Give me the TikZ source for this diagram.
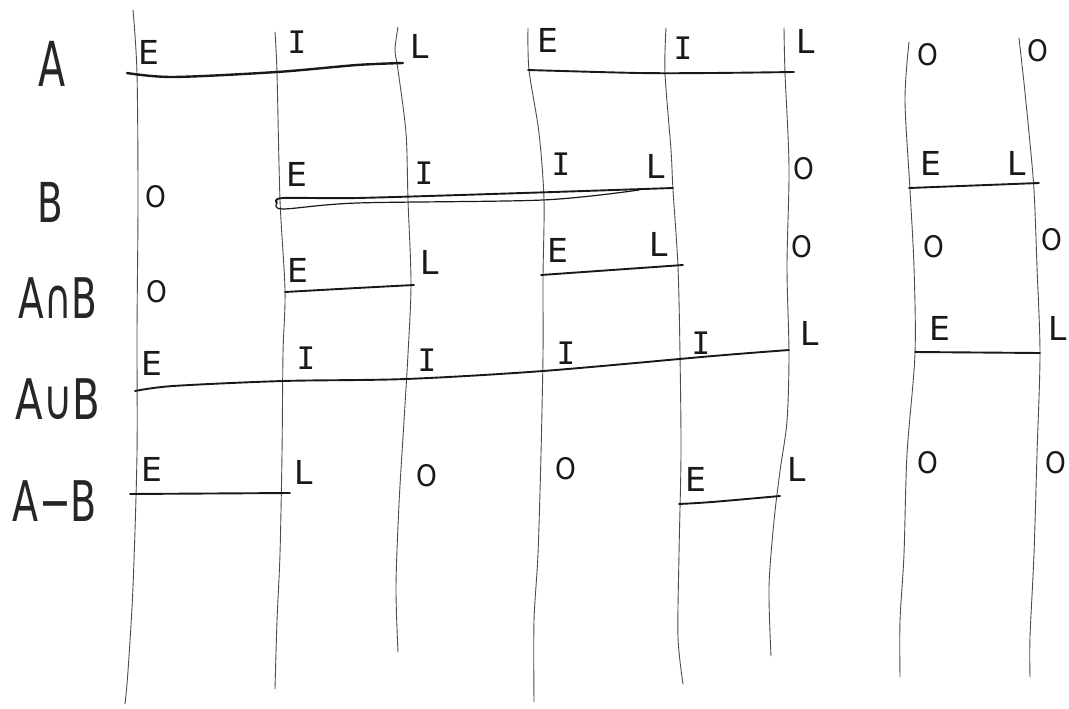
\documentclass[tikz,border=0pt]{standalone}
\usepackage{fontspec}
\usepackage{graphicx}
\newfontfamily\handfont{DejaVu Sans Mono}
\newfontfamily\labfont{DejaVu Sans}
\newcommand\hlab[3]{\scalebox{#2}[1]{\labfont\fontsize{#1}{#1}\selectfont #3}}
\newcommand\hl[1]{\scalebox{0.8}[0.9]{#1}}
\tikzset{
  ltr/.style={font=\labfont\fontsize{33}{33}\selectfont, inner sep=0pt, text=black!90},
  iltr/.style={font=\handfont\fontsize{31}{31}\selectfont, inner sep=0pt, text=black!90},
  rowlab/.style={inner sep=0pt, text=black!85},
  vline/.style={draw=black!70, line width=0.9pt, line cap=round},
  hline/.style={draw=black!90, line width=1.9pt, line cap=round, line join=round},
}
\begin{document}
\begin{tikzpicture}[x=1pt,y=-1pt]
\useasboundingbox[fill=white] (0,0) rectangle (1069,709);

% vertical lines
\draw[vline] plot[smooth] coordinates {(133,10) (137,73) (138,200) (137,333) (137,454) (133,587) (128,671) (125,704)};
\draw[vline] plot[smooth] coordinates {(275,32) (277,73) (280,200) (285,290) (283,354) (282,454) (280,554) (277,621) (275,689)};
\draw[vline] plot[smooth] coordinates {(398,27) (395,50) (398,70) (406,133) (408,200) (411,283) (408,354) (404,421) (399,504) (396,587) (398,652)};
\draw[vline] plot[smooth] coordinates {(528,28) (529,70) (539,133) (544,200) (543,277) (543,354) (541,454) (538,554) (534,621) (534,702)};
\draw[vline] plot[smooth] coordinates {(666,28) (665,73) (671,150) (673,190) (678,267) (680,354) (681,454) (679,554) (678,637) (683,684)};
\draw[vline] plot[smooth] coordinates {(784,28) (785,73) (789,167) (787,267) (789,354) (787,421) (780,471) (774,521) (769,587) (771,656)};
\draw[vline] plot[smooth] coordinates {(909,42) (905,100) (910,190) (914,267) (915,354) (907,454) (904,554) (900,621) (900,677)};
\draw[vline] plot[smooth] coordinates {(1019,38) (1024,83) (1029,133) (1034,190) (1037,267) (1040,354) (1037,454) (1034,554) (1030,637) (1030,677)};

% horizontal lines
\draw[hline, line width=2.4pt] plot[smooth] coordinates {(127,73) (173,77) (277,72) (357,65) (403,63)};
\draw[hline] plot[smooth] coordinates {(528,70) (639,73) (712,73) (794,72)};
\draw[hline] plot[smooth] coordinates {(277,203) (283,198) (357,198) (523,193) (673,188)};
\draw[hline, line width=1.2pt] plot[smooth] coordinates {(277,203) (283,209) (357,203) (543,200) (639,190)};
\draw[hline] plot[smooth] coordinates {(909,188) (1039,183)};
\draw[hline] plot[smooth] coordinates {(285,292) (357,288) (414,285)};
\draw[hline] plot[smooth] coordinates {(541,275) (683,265)};
\draw[hline] plot[smooth] coordinates {(135,391) (173,386) (283,381) (406,379) (543,371) (713,356) (789,350)};
\draw[hline] plot[smooth] coordinates {(915,352) (1040,353)};
\draw[hline] plot[smooth] coordinates {(130,494) (290,493)};
\draw[hline] plot[smooth] coordinates {(679,504) (712,502) (780,496)};

% row labels
\node[rowlab] (labA)  at (52,64)  {\hlab{62}{0.64}{A}};
\node[rowlab] (labB)  at (50,202) {\hlab{55}{0.68}{B}};
\node[rowlab] (labAB) at (58,298) {\hlab{56}{0.67}{A∩B}};
\node[rowlab] (labAuB) at (58,399) {\hlab{56}{0.72}{A∪B}};
\node[rowlab] (labAmB) at (55,501) {\hlab{56}{0.68}{A−B}};

% row A
\node[ltr] (a1) at (149,52) {E};
\node[iltr] (a2) at (297,42) {I};
\node[ltr] (a3) at (420,46) {L};
\node[ltr] (a4) at (548,40) {E};
\node[iltr] (a5) at (683,48) {I};
\node[ltr] (a6) at (806,41) {L};
\node[ltr] (a7) at (928,55) {\hl{O}};
\node[ltr] (a8) at (1038,51) {\hl{O}};
% row B
\node[ltr] (b1) at (156,197) {\hl{O}};
\node[ltr] (b2) at (297,174) {E};
\node[iltr] (b3) at (424,173) {I};
\node[iltr] (b4) at (561,164) {I};
\node[ltr] (b5) at (656,166) {L};
\node[ltr] (b6) at (804,169) {\hl{O}};
\node[ltr] (b7) at (931,163) {E};
\node[ltr] (b8) at (1017,163) {L};
% row A cap B
\node[ltr] (c1) at (157,292) {\hl{O}};
\node[ltr] (c2) at (298,270) {E};
\node[ltr] (c3) at (430,262) {L};
\node[ltr] (c4) at (558,250) {E};
\node[ltr] (c5) at (659,244) {L};
\node[ltr] (c6) at (802,247) {\hl{O}};
\node[ltr] (c7) at (934,247) {\hl{O}};
\node[ltr] (c8) at (1052,240) {\hl{O}};
% row A cup B
\node[ltr] (d1) at (152,363) {E};
\node[iltr] (d2) at (306,358) {I};
\node[iltr] (d3) at (427,360) {I};
\node[iltr] (d4) at (566,353) {I};
\node[iltr] (d5) at (701,343) {I};
\node[ltr] (d6) at (810,333) {L};
\node[ltr] (d7) at (940,328) {E};
\node[ltr] (d8) at (1058,328) {L};
% row A - B
\node[ltr] (e1) at (152,469) {E};
\node[ltr] (e2) at (304,472) {L};
\node[ltr] (e3) at (427,476) {\hl{O}};
\node[ltr] (e4) at (566,469) {\hl{O}};
\node[ltr] (e5) at (696,479) {E};
\node[ltr] (e6) at (797,469) {L};
\node[ltr] (e7) at (928,463) {\hl{O}};
\node[ltr] (e8) at (1056,463) {\hl{O}};
\end{tikzpicture}
\end{document}
